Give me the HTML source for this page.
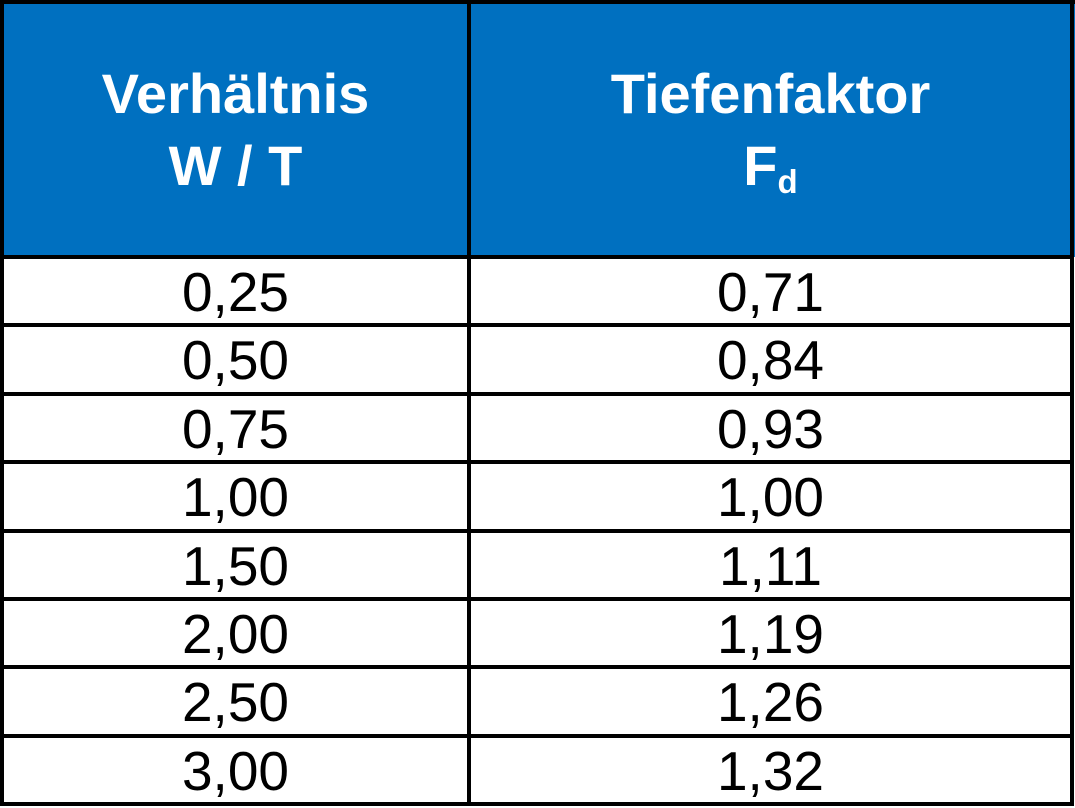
<!DOCTYPE html>
<html><head><meta charset="utf-8"><style>
body{margin:0;width:1075px;height:808px;background:#fff;position:relative;overflow:hidden;font-family:"Liberation Sans",Arial,sans-serif}
.hdr{position:absolute;background:#0070c0;top:0;height:257px}
.ln{position:absolute;background:#000}
.h{position:absolute;color:#fff;font-weight:bold;font-size:56px;line-height:72px;text-align:center}
.c{position:absolute;font-size:55px;text-align:center;color:#000}
</style></head><body>
<div class="hdr" style="left:0;width:1075px"></div>
<div class="h" style="left:4px;width:463px;top:58px">Verhältnis<br>W / T</div>
<div class="h" style="left:471px;width:599px;top:58px">Tiefenfaktor<br>F<sub style="font-size:33px;vertical-align:-8px">d</sub></div>
<div id="rows"></div>
<div class="ln" style="left:0;top:0;width:1075px;height:4px"></div>
<div class="ln" style="left:0;top:0;width:4px;height:806px"></div>
<div class="ln" style="left:1070px;top:0;width:4px;height:806px"></div>
<div class="ln" style="left:467px;top:0;width:4px;height:806px"></div>
<div class="ln" style="left:0;top:255px;width:1074px;height:4px"></div>
<script>
const ratios=["0,25","0,50","0,75","1,00","1,50","2,00","2,50","3,00"];
const factors=["0,71","0,84","0,93","1,00","1,11","1,19","1,26","1,32"];
const root=document.getElementById('rows');
const top0=259,rh=68.4;
ratios.forEach((r,i)=>{
  const y=top0+i*rh;
  const a=document.createElement('div');a.className='c';
  
  
  a.style.cssText=`left:4px;width:463px;top:${y+3}px;line-height:60px`;a.textContent=r;root.appendChild(a);
  const b=document.createElement('div');b.className='c';
  
  
  b.style.cssText=`left:471px;width:599px;top:${y+3}px;line-height:60px`;b.textContent=factors[i];root.appendChild(b);
  const l=document.createElement('div');l.className='ln';
  
  
  l.style.cssText=`left:0;width:1074px;height:4px;top:${Math.round(y+rh-4)}px`;root.appendChild(l);
});
</script>
</body></html>
